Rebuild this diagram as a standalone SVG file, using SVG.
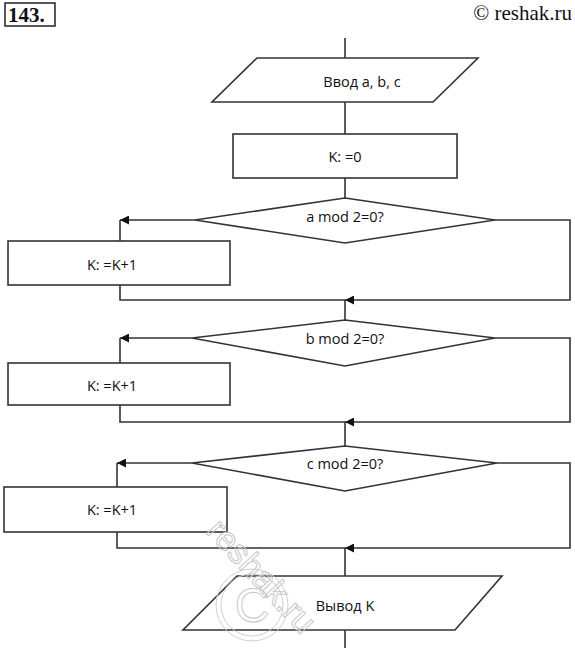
<svg xmlns="http://www.w3.org/2000/svg" width="575" height="648" viewBox="0 0 575 648">
<defs>
<marker id="arr" viewBox="0 0 10 10" refX="10" refY="5" markerWidth="14" markerHeight="9" markerUnits="userSpaceOnUse" orient="auto">
<path d="M0,0 L10,5 L0,10 z" fill="#111"/>
</marker>
<style>
.s{fill:#fff;stroke:#333;stroke-width:1.6}
.l{fill:none;stroke:#333;stroke-width:1.6}
.t{font-family:"Open Sans","Noto Sans","Liberation Sans",sans-serif;font-size:14.5px;fill:#111;text-anchor:middle;dominant-baseline:central}
.wm{font-family:"Liberation Sans",sans-serif;fill:none;stroke:#c8c8c8;stroke-width:1}
</style>
</defs>
<rect width="575" height="648" fill="#fff"/>
<g id="header">
<rect x="5" y="3" width="50" height="23" fill="none" stroke="#222" stroke-width="1.5"/>
<text x="8" y="22" font-family="Liberation Serif,serif" font-weight="bold" font-size="21" fill="#111">143.</text>
<text x="572" y="20" font-family="Liberation Serif,serif" font-size="21" fill="#111" text-anchor="end">© reshak.ru</text>
</g>
<g id="connectors">
<line class="l" x1="345" y1="38" x2="345" y2="58"/>
<line class="l" x1="345" y1="102" x2="345" y2="134"/>
<line class="l" x1="345" y1="178" x2="345" y2="198"/>
<polyline class="l" points="195,220 120,220" marker-end="url(#arr)"/>
<line class="l" x1="120" y1="220" x2="120" y2="241"/>
<polyline class="l" points="120,285 120,300 345,300"/>
<polyline class="l" points="495,220 570,220 570,300 345,300" marker-end="url(#arr)"/>
<line class="l" x1="345" y1="300" x2="345" y2="320"/>
<polyline class="l" points="192,338 120,338" marker-end="url(#arr)"/>
<line class="l" x1="120" y1="338" x2="120" y2="363"/>
<polyline class="l" points="120,405 120,422 345,422"/>
<polyline class="l" points="495,338 570,338 570,422 345,422" marker-end="url(#arr)"/>
<line class="l" x1="345" y1="422" x2="345" y2="446"/>
<polyline class="l" points="192,463 117,463" marker-end="url(#arr)"/>
<line class="l" x1="117" y1="463" x2="117" y2="487"/>
<polyline class="l" points="117,532 117,548 345,548"/>
<polyline class="l" points="497,463 570,463 570,548 345,548" marker-end="url(#arr)"/>
<line class="l" x1="345" y1="548" x2="345" y2="576"/>
<line class="l" x1="345" y1="630" x2="345" y2="648"/>
</g>
<g id="input">
<polygon class="s" points="257,58 478,58 433,102 212,102"/>
<text class="t" x="362" y="81">Ввод a, b, c</text>
</g>
<g id="init">
<rect class="s" x="233" y="134" width="224" height="44"/>
<text class="t" x="345" y="156">K: =0</text>
</g>
<g id="condA">
<polygon class="s" points="345,198 495,220 345,243 195,220"/>
<text class="t" x="345" y="216">a mod 2=0?</text>
</g>
<g id="incA">
<rect class="s" x="8" y="241" width="222" height="44"/>
<text class="t" x="112" y="264">K: =K+1</text>
</g>
<g id="condB">
<polygon class="s" points="345,320 495,338 345,366 192,338"/>
<text class="t" x="345" y="338">b mod 2=0?</text>
</g>
<g id="incB">
<rect class="s" x="8" y="363" width="222" height="42"/>
<text class="t" x="112" y="385">K: =K+1</text>
</g>
<g id="condC">
<polygon class="s" points="345,446 497,463 345,491 192,463"/>
<text class="t" x="345" y="463">c mod 2=0?</text>
</g>
<g id="incC">
<rect class="s" x="4" y="487" width="223" height="45"/>
<text class="t" x="112" y="509">K: =K+1</text>
</g>
<g id="output">
<polygon class="s" points="237,576 502,576 455,630 183,630"/>
<text class="t" x="345" y="605">Вывод K</text>
</g>
<g id="watermark">
<circle cx="252" cy="605" r="36" fill="none" stroke="#d0d0d0" stroke-width="1"/>
<circle cx="252" cy="605" r="31" fill="none" stroke="#d0d0d0" stroke-width="1"/>
<text class="wm" x="252" y="622" font-size="48" text-anchor="middle">C</text>
<text class="wm" x="0" y="0" font-size="34" transform="translate(205,532) rotate(47)">reshak.ru</text>
</g>
</svg>
